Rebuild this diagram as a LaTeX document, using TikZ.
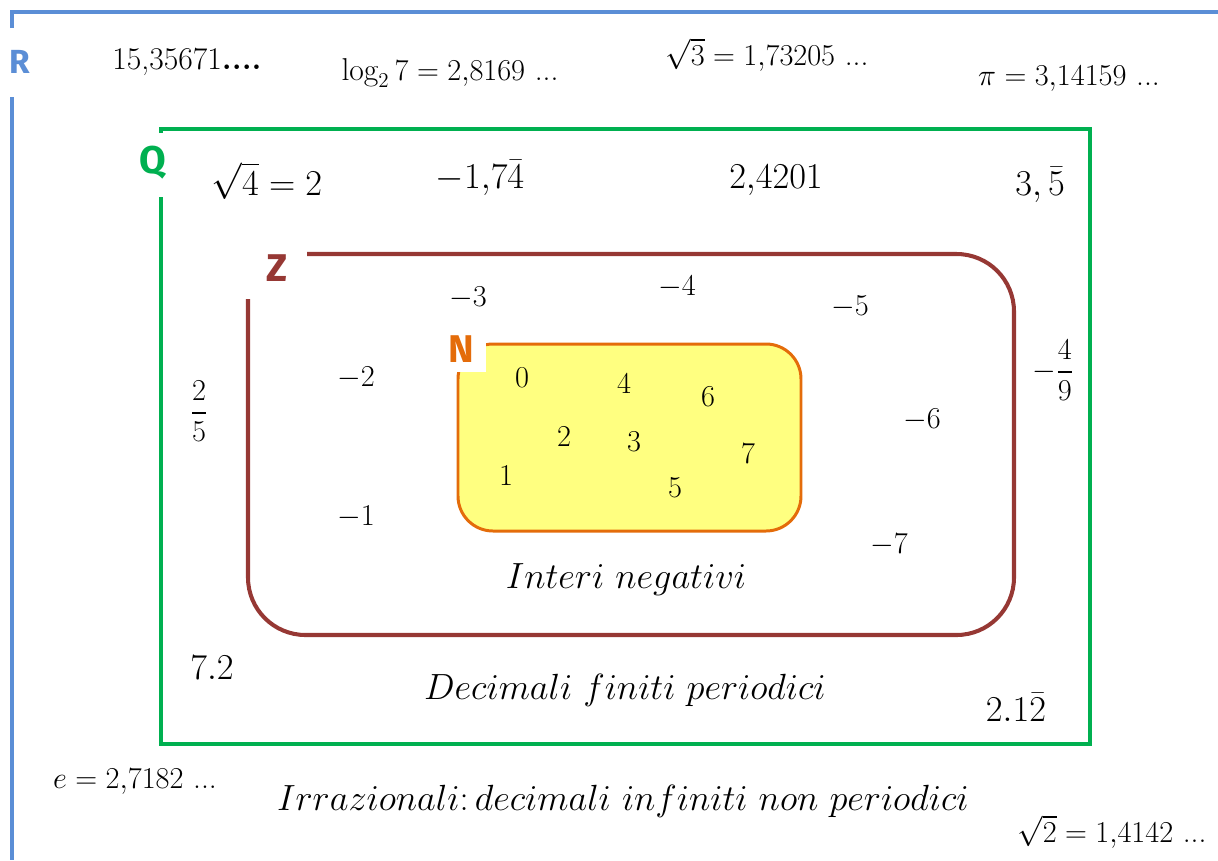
\documentclass[tikz,border=0pt]{standalone}
\usepackage{amsmath,amssymb}
\usepackage{fontspec}
\newfontfamily\labelfont{Fira Sans}
\definecolor{rBlue}{RGB}{91,142,214}
\definecolor{qGreen}{RGB}{0,176,80}
\definecolor{zBrown}{RGB}{150,56,52}
\definecolor{nOrange}{RGB}{228,108,10}
\definecolor{nYellow}{RGB}{255,255,128}
\newcommand{\tdots}{\text{...}}

\begin{document}
\begin{tikzpicture}[x=0.02cm,y=-0.02cm,
  qnum/.style={font=\fontsize{22}{26}\selectfont},
  znum/.style={font=\fontsize{19}{23}\selectfont},
  rnum/.style={font=\fontsize{18}{22}\selectfont},
  caption/.style={font=\fontsize{21}{25}\selectfont},
  setlabel/.style={font=\labelfont\bfseries\fontsize{22}{26}\selectfont, inner sep=0pt}]
\useasboundingbox (0,0) rectangle (1218,860);
\draw[rBlue, line width=2.3pt] (12,28) -- (12,12) -- (1218,12);
\draw[rBlue, line width=2.3pt] (12,97) -- (12,860);
\draw[qGreen, line width=2.3pt] (161,133) -- (161,129) -- (1090,129) -- (1090,744) -- (161,744) -- (161,197);
\draw[zBrown, line width=2.3pt, rounded corners=1.15cm] (307,254) -- (1014,254) -- (1014,635) -- (248,635) -- (248,299);
\draw[nOrange, fill=nYellow, line width=1.7pt, rounded corners=0.7cm] (458,344) rectangle (801,531);
\fill[white] (447,335) rectangle (486,372);
\node[setlabel, text=rBlue, font=\labelfont\bfseries\fontsize{19}{23}\selectfont] (rlab) at (20,62) {R};
\node[setlabel, text=qGreen] (qlab) at (153,163) {Q};
\node[setlabel, text=zBrown] (zlab) at (277,268) {Z};
\node[setlabel, text=nOrange] (nlab) at (461,349) {N};
\node[rnum] (r1) at (187,62) {15,35671\textbf{....}};
\node[rnum] (r2) at (450,73) {$\log_2 7 = 2{,}8169\ \tdots$};
\node[rnum] (r3) at (767,55) {$\sqrt{3} = 1{,}73205\ \tdots$};
\node[rnum] (r4) at (1069,79) {$\pi = 3{,}14159\ \tdots$};
\node[rnum] (r5) at (135,782) {$e = 2{,}7182\ \tdots$};
\node[rnum] (r6) at (1112,832) {$\sqrt{2} = 1{,}4142\ \tdots$};
\node[caption] (rcap) at (623,801) {$Irrazionali{:}\,decimali\ infiniti\ non\ periodici$};
\node[qnum] (q1) at (267,181) {$\sqrt{4} = 2$};
\node[qnum] (q2) at (480,178) {$-1{,}7\bar{4}$};
\node[qnum] (q3) at (776,180) {$2{,}4201$};
\node[qnum] (q4) at (1040,185) {$3,\bar{5}$};
\node[znum] (q5) at (199,411) {$\dfrac{2}{5}$};
\node[znum] (q6) at (1053,370) {$-\dfrac{4}{9}$};
\node[qnum] (q7) at (212,668) {$7.2$};
\node[qnum] (q8) at (1016,707) {$2.1\bar{2}$};
\node[caption] (qcap) at (625,690) {$Decimali\ finiti\ periodici$};
\node[znum] (z3) at (468,298) {$-3$};
\node[znum] (z4) at (677,287) {$-4$};
\node[znum] (z5) at (850,307) {$-5$};
\node[znum] (z2) at (356,378) {$-2$};
\node[znum] (z6) at (922,420) {$-6$};
\node[znum] (z1) at (356,517) {$-1$};
\node[znum] (z7) at (889,545) {$-7$};
\node[caption] (zcap) at (626,580) {$Interi\ negativi$};
\node[znum] (n0) at (522,378) {$0$};
\node[znum] (n4) at (624,384) {$4$};
\node[znum] (n6) at (708,397) {$6$};
\node[znum] (n2) at (564,437) {$2$};
\node[znum] (n3) at (634,442) {$3$};
\node[znum] (n7) at (748,454) {$7$};
\node[znum] (n1) at (506,476) {$1$};
\node[znum] (n5) at (675,488) {$5$};
\end{tikzpicture}
\end{document}
